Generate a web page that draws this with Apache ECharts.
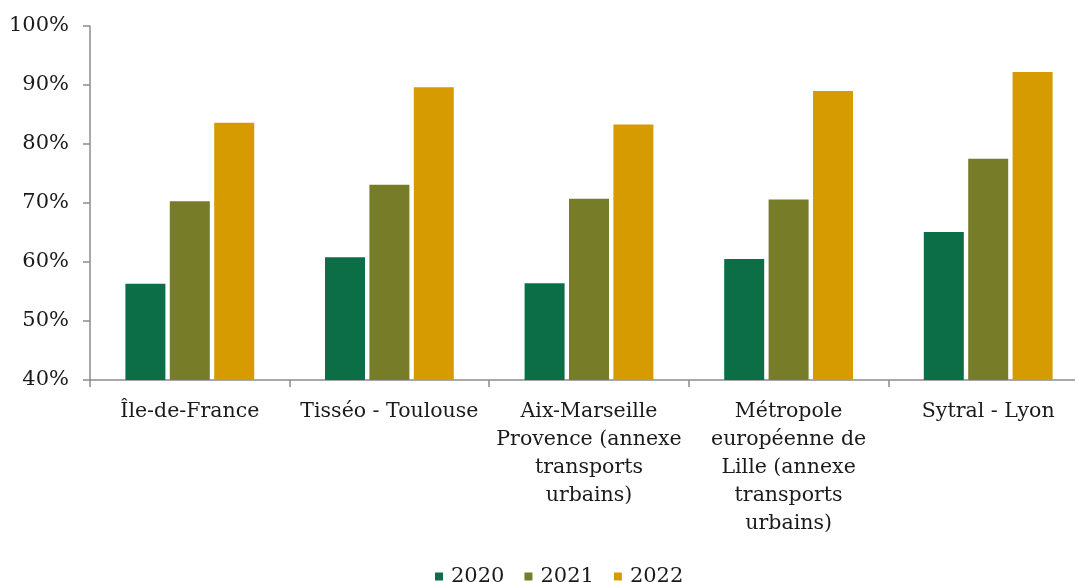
<!DOCTYPE html>
<html>
<head>
<meta charset="utf-8">
<script src="https://cdn.jsdelivr.net/npm/echarts@6/dist/echarts.min.js"></script>
<style>
html,body{margin:0;padding:0;background:#fff;overflow:hidden;width:1075px;height:582px;}
#chart{width:1100px;height:582px;}
</style>
</head>
<body>
<div id="chart"></div>
<script>
const categories = [
  "Île-de-France",
  "Tisséo - Toulouse",
  "Aix-Marseille\nProvence (annexe\ntransports\nurbains)",
  "Métropole\neuropéenne de\nLille (annexe\ntransports\nurbains)",
  "Sytral - Lyon"
];
const seriesNames = ["2020", "2021", "2022"];
const values2020 = [56.3, 60.8, 56.4, 60.5, 65.1];
const values2021 = [70.3, 73.1, 70.7, 70.6, 77.5];
const values2022 = [83.6, 89.6, 83.3, 89.0, 92.2];
const colors = ["#0C6E47", "#767C28", "#D69B00"];

const FONT = "'DejaVu Serif', serif";
const chart = echarts.init(document.getElementById('chart'));
const data = [values2020, values2021, values2022];
chart.setOption({
  animation: false,
  textStyle: {fontFamily: FONT},
  grid: {left: 90, top: 26, right: 12, height: 354, containLabel: false},
  legend: {
    data: seriesNames,
    left: 430, top: 561,
    itemWidth: 8, itemHeight: 8, itemGap: 20,
    icon: 'rect',
    textStyle: {fontFamily: FONT, fontSize: 21, color: '#1a1a1a', padding: [0,0,0,3]}
  },
  xAxis: {
    type: 'category',
    data: categories,
    axisLine: {lineStyle: {color: '#8c8c8c', width: 1.5}},
    axisTick: {show: true, length: 7, lineStyle: {color: '#8c8c8c', width: 1.5}},
    axisLabel: {interval: 0, margin: 18, fontFamily: FONT, fontSize: 20.5, lineHeight: 28, color: '#1a1a1a', align: 'center'}
  },
  yAxis: {
    type: 'value',
    min: 40, max: 100, interval: 10,
    axisLine: {show: true, lineStyle: {color: '#8c8c8c', width: 1.5}},
    axisTick: {show: true, length: 7, lineStyle: {color: '#8c8c8c', width: 1.5}},
    splitLine: {show: false},
    axisLabel: {formatter: '{value}%', margin: 21, fontFamily: FONT, fontSize: 21, color: '#1a1a1a'}
  },
  series: seriesNames.map((n, i) => ({
    name: n,
    type: 'bar',
    data: data[i],
    barWidth: 40,
    barGap: '11%',
    itemStyle: {color: colors[i]}
  }))
});
</script>
</body>
</html>
